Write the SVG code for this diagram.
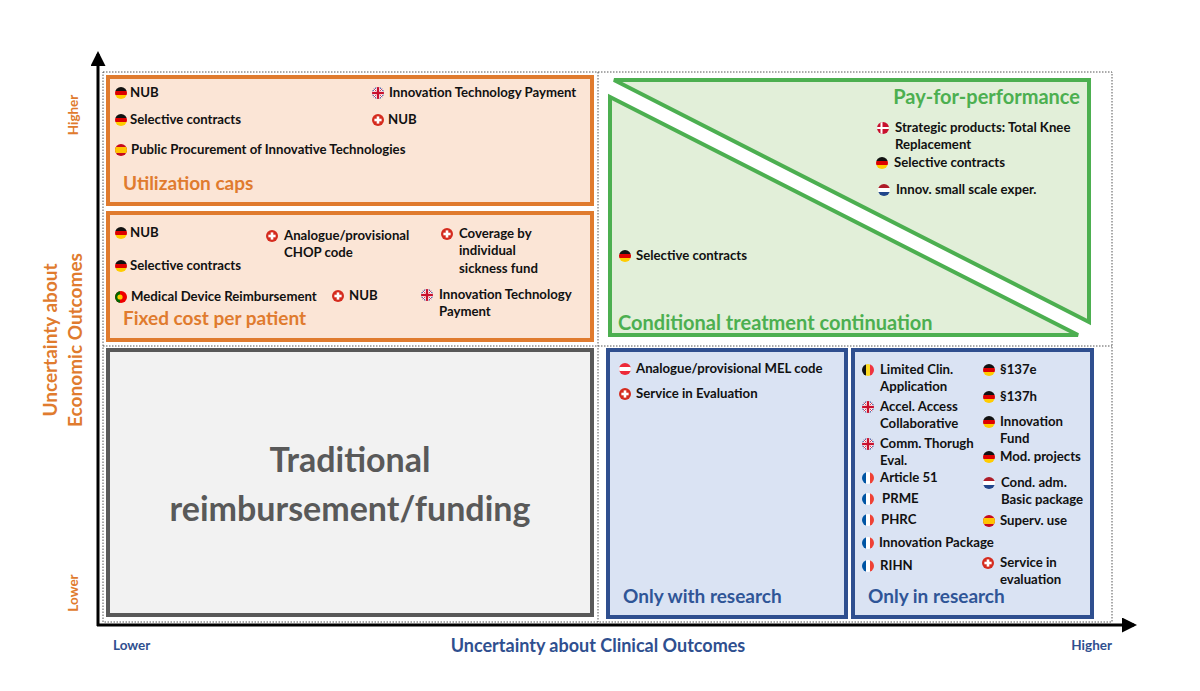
<svg xmlns="http://www.w3.org/2000/svg" xmlns:xlink="http://www.w3.org/1999/xlink" width="1200" height="691" viewBox="0 0 1200 691">
<style>
text{font-family:Lato,"Open Sans","Liberation Sans",sans-serif;font-weight:bold}
.t{font-size:13.2px;fill:#111}
.ho{font-size:19px;fill:#e07b2e}
.hg{font-size:20px;fill:#4caf50}
.hb{font-size:19px;fill:#2f5597}
.ax{font-size:13.5px}
</style>
<defs>
<clipPath id="c"><circle r="6"/></clipPath>
<g id="de" clip-path="url(#c)"><rect x="-6" y="-6" width="12" height="4" fill="#111"/><rect x="-6" y="-2" width="12" height="4" fill="#d00"/><rect x="-6" y="2" width="12" height="4" fill="#fc0"/></g>
<g id="ch"><circle r="6" fill="#d52b1e"/><rect x="-1.3" y="-3.6" width="2.6" height="7.2" fill="#fff"/><rect x="-3.6" y="-1.3" width="7.2" height="2.6" fill="#fff"/></g>
<g id="uk" clip-path="url(#c)"><rect x="-6" y="-6" width="12" height="12" fill="#2a3f8f"/><path d="M-6-6L6 6M6-6L-6 6" stroke="#fff" stroke-width="2.4"/><path d="M-6-6L6 6M6-6L-6 6" stroke="#c8102e" stroke-width="0.8"/><rect x="-2" y="-6" width="4" height="12" fill="#fff"/><rect x="-6" y="-2" width="12" height="4" fill="#fff"/><rect x="-1.2" y="-6" width="2.4" height="12" fill="#c8102e"/><rect x="-6" y="-1.2" width="12" height="2.4" fill="#c8102e"/></g>
<g id="es" clip-path="url(#c)"><rect x="-6" y="-6" width="12" height="12" fill="#c60b1e"/><rect x="-6" y="-3" width="12" height="6" fill="#ffc400"/></g>
<g id="pt" clip-path="url(#c)"><rect x="-6" y="-6" width="12" height="12" fill="#e00"/><rect x="-6" y="-6" width="5" height="12" fill="#060"/><circle cx="-1" r="2.6" fill="#fc0"/></g>
<g id="dk" clip-path="url(#c)"><rect x="-6" y="-6" width="12" height="12" fill="#c8102e"/><rect x="-2.5" y="-6" width="2" height="12" fill="#fff"/><rect x="-6" y="-1" width="12" height="2" fill="#fff"/></g>
<g id="nl" clip-path="url(#c)"><rect x="-6" y="-6" width="12" height="4" fill="#ae1c28"/><rect x="-6" y="-2" width="12" height="4" fill="#fff"/><rect x="-6" y="2" width="12" height="4" fill="#21468b"/></g>
<g id="at" clip-path="url(#c)"><rect x="-6" y="-6" width="12" height="12" fill="#ed2939"/><rect x="-6" y="-2" width="12" height="4" fill="#fff"/></g>
<g id="be" clip-path="url(#c)"><rect x="-6" y="-6" width="4" height="12" fill="#111"/><rect x="-2" y="-6" width="4" height="12" fill="#fdda24"/><rect x="2" y="-6" width="4" height="12" fill="#ef3340"/></g>
<g id="fr" clip-path="url(#c)"><rect x="-6" y="-6" width="4" height="12" fill="#0055a4"/><rect x="-2" y="-6" width="4" height="12" fill="#fff"/><rect x="2" y="-6" width="4" height="12" fill="#ef4135"/></g>
<marker id="ar" viewBox="0 0 10 10" refX="8" refY="5" markerWidth="5" markerHeight="5" orient="auto"><path d="M0 0L10 5L0 10z" fill="#000"/></marker>
</defs>

<g id="grid" fill="none" stroke="#555" stroke-width="1" stroke-dasharray="1.5 1.5">
<rect x="103" y="72" width="1009" height="550"/>
<line x1="598" y1="72" x2="598" y2="622"/>
<line x1="103" y1="346" x2="1112" y2="346"/>
</g>

<g id="connectors" stroke="#000" stroke-width="3" fill="none">
<line x1="98" y1="626" x2="98" y2="54" marker-end="url(#ar)"/>
<line x1="97" y1="625" x2="1134" y2="625" marker-end="url(#ar)"/>
</g>

<g id="utilization">
<rect x="108" y="77" width="484" height="127" fill="#fbe5d6" stroke="#e07b2e" stroke-width="4"/>
<use href="#de" x="121" y="93"/><text class="t" x="130" y="97">NUB</text>
<use href="#de" x="121" y="120"/><text class="t" x="130" y="124">Selective contracts</text>
<use href="#es" x="121" y="150"/><text class="t" x="131" y="154">Public Procurement of Innovative Technologies</text>
<use href="#uk" x="378" y="93"/><text class="t" x="389" y="97">Innovation Technology Payment</text>
<use href="#ch" x="378" y="120"/><text class="t" x="388" y="124">NUB</text>
<text class="ho" x="123" y="190">Utilization caps</text>
</g>

<g id="fixed">
<rect x="108" y="213" width="484" height="127" fill="#fbe5d6" stroke="#e07b2e" stroke-width="4"/>
<use href="#de" x="121" y="233"/><text class="t" x="130" y="237">NUB</text>
<use href="#de" x="121" y="266"/><text class="t" x="130" y="270">Selective contracts</text>
<use href="#pt" x="121" y="297"/><text class="t" x="131" y="301">Medical Device Reimbursement</text>
<use href="#ch" x="272" y="236"/><text class="t" x="284" y="240">Analogue/provisional</text><text class="t" x="284" y="257">CHOP code</text>
<use href="#ch" x="447" y="234"/><text class="t" x="459" y="238">Coverage by</text><text class="t" x="459" y="255">individual</text><text class="t" x="459" y="273">sickness fund</text>
<use href="#ch" x="338" y="296"/><text class="t" x="349" y="300">NUB</text>
<use href="#uk" x="427" y="295"/><text class="t" x="439" y="299">Innovation Technology</text><text class="t" x="439" y="316">Payment</text>
<text class="ho" x="123" y="325">Fixed cost per patient</text>
</g>

<g id="traditional">
<rect x="108" y="350" width="484" height="265" fill="#f2f2f2" stroke="#595959" stroke-width="4"/>
<text x="350" y="472" text-anchor="middle" font-size="34" fill="#595959">Traditional</text>
<text x="350" y="521" text-anchor="middle" font-size="34" fill="#595959">reimbursement/funding</text>
</g>

<g id="green" stroke="#4caf50" stroke-width="4" fill="#e2efd9" stroke-linejoin="miter">
<polygon points="614,80 1089,80 1089,322"/>
<polygon points="610,97 610,335 1078,335"/>
</g>
<g id="green-text">
<text class="hg" x="1080" y="104" text-anchor="end">Pay-for-performance</text>
<use href="#dk" x="883" y="128"/><text class="t" x="895" y="132">Strategic products: Total Knee</text><text class="t" x="895" y="149">Replacement</text>
<use href="#de" x="882" y="163"/><text class="t" x="894" y="167">Selective contracts</text>
<use href="#nl" x="884" y="190"/><text class="t" x="896" y="194">Innov. small scale exper.</text>
<use href="#de" x="625" y="256"/><text class="t" x="636" y="260">Selective contracts</text>
<text class="hg" x="618" y="330">Conditional treatment continuation</text>
</g>

<g id="only-with">
<rect x="608" y="350" width="238" height="267" fill="#dae3f3" stroke="#2f4f8f" stroke-width="4"/>
<use href="#at" x="625" y="369"/><text class="t" x="636" y="373">Analogue/provisional MEL code</text>
<use href="#ch" x="625" y="394"/><text class="t" x="636" y="398">Service in Evaluation</text>
<text class="hb" x="623" y="603">Only with research</text>
</g>

<g id="only-in">
<rect x="853" y="350" width="239" height="267" fill="#dae3f3" stroke="#2f4f8f" stroke-width="4"/>
<use href="#be" x="868" y="370"/><text class="t" x="880" y="374">Limited Clin.</text><text class="t" x="880" y="391">Application</text>
<use href="#uk" x="868" y="407"/><text class="t" x="880" y="411">Accel. Access</text><text class="t" x="880" y="428">Collaborative</text>
<use href="#uk" x="868" y="444"/><text class="t" x="880" y="448">Comm. Thorugh</text><text class="t" x="880" y="465">Eval.</text>
<use href="#fr" x="868" y="478"/><text class="t" x="880" y="482">Article 51</text>
<use href="#fr" x="868" y="499"/><text class="t" x="882" y="503">PRME</text>
<use href="#fr" x="868" y="520"/><text class="t" x="881" y="524">PHRC</text>
<use href="#fr" x="868" y="543"/><text class="t" x="879" y="547">Innovation Package</text>
<use href="#fr" x="868" y="566"/><text class="t" x="880" y="570">RIHN</text>
<use href="#de" x="989" y="370"/><text class="t" x="1000" y="374">§137e</text>
<use href="#de" x="989" y="397"/><text class="t" x="1000" y="401">§137h</text>
<use href="#de" x="989" y="422"/><text class="t" x="1000" y="426">Innovation</text><text class="t" x="1000" y="443">Fund</text>
<use href="#de" x="989" y="457"/><text class="t" x="1000" y="461">Mod. projects</text>
<use href="#nl" x="989" y="483"/><text class="t" x="1001" y="487">Cond. adm.</text><text class="t" x="1001" y="504">Basic package</text>
<use href="#es" x="989" y="521"/><text class="t" x="1000" y="525">Superv. use</text>
<use href="#ch" x="988" y="563"/><text class="t" x="1000" y="567">Service in</text><text class="t" x="1000" y="584">evaluation</text>
<text class="hb" x="868" y="603">Only in research</text>
</g>

<g id="axis-labels">
<text class="ax" x="113" y="650" fill="#2f4f8f">Lower</text>
<text class="ax" x="1112" y="650" fill="#2f4f8f" text-anchor="end">Higher</text>
<text x="598" y="652" text-anchor="middle" font-size="18" fill="#2f4f8f">Uncertainty about Clinical Outcomes</text>
<text class="ax" transform="translate(78,115) rotate(-90)" text-anchor="middle" fill="#e07b2e">Higher</text>
<text class="ax" transform="translate(78,593) rotate(-90)" text-anchor="middle" fill="#e07b2e">Lower</text>
<text transform="translate(57,340) rotate(-90)" text-anchor="middle" font-size="19" fill="#e07b2e">Uncertainty about</text>
<text transform="translate(82,340) rotate(-90)" text-anchor="middle" font-size="19" fill="#e07b2e">Economic Outcomes</text>
</g>
</svg>
